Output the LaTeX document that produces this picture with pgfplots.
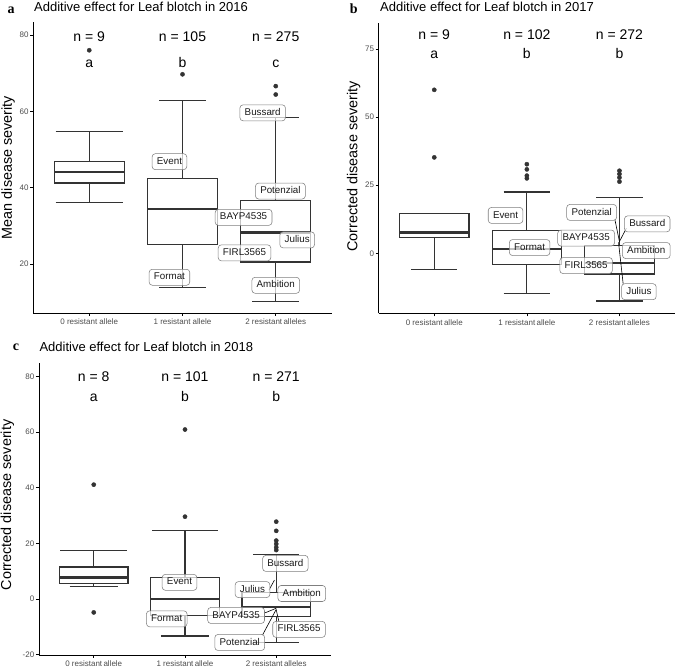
\documentclass[border=0pt]{standalone}
\usepackage{fontspec}
\setmainfont{Liberation Sans}
\newfontfamily\serifb{Liberation Serif}
\usepackage{pgfplots}
\pgfplotsset{compat=1.18}
\definecolor{tickgray}{HTML}{4D4D4D}
\definecolor{boxgray}{HTML}{333333}
\definecolor{lblgray}{HTML}{7F7F7F}
\definecolor{lbltext}{HTML}{1A1A1A}
\pgfplotsset{
  myax/.style={scale only axis, axis lines=left,
    axis line style={-, line width=0.8pt, black},
    xmin=-0.6, xmax=2.6, xtick={0,1,2},
    tick align=outside, major tick length=3pt,
    tick style={line width=0.7pt, black},
    xtick pos=left, ytick pos=left,
    ticklabel style={font=\fontsize{8}{9}\selectfont, text=tickgray},
    yticklabel style={inner sep=1.5pt},
    xticklabel style={inner sep=1pt, yshift=-2pt},
    clip=false, anchor=south west},
  bxl/.style={draw=boxgray, line width=1.15pt, mark=none, solid, line join=miter},
  bxf/.style={bxl, fill=white},
  med/.style={draw=boxgray, line width=2.4pt, mark=none},
  outl/.style={only marks, mark=*, mark size=2.1pt, draw=boxgray, fill=boxgray},
  seg/.style={black, line width=0.6pt, mark=none},
}
\tikzset{
  lbl/.style={draw=lblgray, line width=0.55pt, fill=white, fill opacity=0.7, text opacity=1,
    text=lbltext, rounded corners=3.2pt, font=\fontsize{9.8}{11}\selectfont,
    inner xsep=4.8pt, inner ysep=0pt, text height=7.2pt, text depth=2pt, minimum height=16pt},
  ntxt/.style={anchor=base, inner sep=0pt, font=\fontsize{14}{16}\selectfont},
  ttl/.style={anchor=base west, inner sep=0pt, font=\fontsize{13}{15}\selectfont},
  plet/.style={anchor=base west, inner sep=0pt, font=\serifb\bfseries\fontsize{14}{16}\selectfont},
  ylab/.style={rotate=90, anchor=base, inner sep=0pt, font=\fontsize{14.4}{16}\selectfont},
}
\begin{document}
\begin{tikzpicture}
\path[use as bounding box] (0pt,0pt) rectangle (677pt,668pt);

% ---------------- panel a ----------------
\node[plet] at (7.3pt,654.7pt) {a};
\node[ttl] at (34pt,656.5pt) {Additive effect for Leaf blotch in 2016};
\node[ylab] at (12pt,500.5pt) {Mean disease severity};
\begin{axis}[myax, at={(33.3pt,355pt)}, width=298.4pt, height=291.3pt,
  ymin=7.14, ymax=83.49, ytick={20,40,60,80}, yticklabels={20,40,60,80},
  xticklabels={0 resistant allele, 1 resistant allele, 2 resistant\,alleles}]
% group 0
\addplot[bxl] coordinates {(0,46.8) (0,54.8)};
\addplot[bxl] coordinates {(-0.36,54.8) (0.36,54.8)};
\addplot[bxl] coordinates {(0,41.2) (0,36.2)};
\addplot[bxl] coordinates {(-0.36,36.2) (0.36,36.2)};
\addplot[bxf] coordinates {(-0.375,41.2) (0.375,41.2) (0.375,46.8) (-0.375,46.8) (-0.375,41.2)} -- cycle;
\addplot[med] coordinates {(-0.375,44.1) (0.375,44.1)};
% group 1
\addplot[bxl] coordinates {(1,42.3) (1,62.9)};
\addplot[bxl] coordinates {(0.75,62.9) (1.25,62.9)};
\addplot[bxl] coordinates {(1,25.1) (1,13.9)};
\addplot[bxl] coordinates {(0.75,13.9) (1.25,13.9)};
\addplot[bxf] coordinates {(0.625,25.1) (1.375,25.1) (1.375,42.3) (0.625,42.3) (0.625,25.1)} -- cycle;
\addplot[med] coordinates {(0.625,34.4) (1.375,34.4)};
% group 2
\addplot[bxl] coordinates {(2,36.7) (2,58.3)};
\addplot[bxl] coordinates {(1.75,58.3) (2.25,58.3)};
\addplot[bxl] coordinates {(2,20.5) (2,10.2)};
\addplot[bxl] coordinates {(1.75,10.2) (2.25,10.2)};
\addplot[bxf] coordinates {(1.625,20.5) (2.375,20.5) (2.375,36.7) (1.625,36.7) (1.625,20.5)} -- cycle;
\addplot[med] coordinates {(1.625,28.2) (2.375,28.2)};
\addplot[outl] coordinates {(0,76.0) (1,69.7) (2,66.6) (2,64.4)};
\node[lbl] at (axis cs:0.86,46.8) {Event};
\node[lbl] at (axis cs:0.86,16.5) {Format};
\node[lbl] at (axis cs:1.655,32.2) {BAYP4535};
\node[lbl] at (axis cs:1.86,59.6) {Bussard};
\node[lbl] at (axis cs:2.05,39.1) {Potenzial};
\node[lbl] at (axis cs:2.23,26.3) {Julius};
\node[lbl] at (axis cs:1.665,22.9) {FIRL3565};
\node[lbl] at (axis cs:2.0,14.4) {Ambition};
\node[ntxt] at (axis cs:0,78.4) {n = 9};
\node[ntxt] at (axis cs:1,78.4) {n = 105};
\node[ntxt] at (axis cs:2,78.4) {n = 275};
\node[ntxt] at (axis cs:0,71.6) {a};
\node[ntxt] at (axis cs:1,71.6) {b};
\node[ntxt] at (axis cs:2,71.6) {c};
\end{axis}

% ---------------- panel b ----------------
\node[plet] at (349.7pt,654.7pt) {b};
\node[ttl] at (380pt,656.5pt) {Additive effect for Leaf blotch in 2017};
\node[ylab] at (357.3pt,501.5pt) {Corrected disease severity};
\begin{axis}[myax, at={(378.7pt,354.7pt)}, width=296.3pt, height=290.6pt,
  ymin=-22.03, ymax=84.65, ytick={0,25,50,75}, yticklabels={0,25,50,75},
  xticklabels={0 resistant\,allele, 1 resistant\,allele, 2 resistant\,alleles}]
% group 0
\addplot[bxl] coordinates {(0,5.9) (0,-6.1)};
\addplot[bxl] coordinates {(-0.25,-6.1) (0.25,-6.1)};
\addplot[bxf] coordinates {(-0.375,5.9) (0.375,5.9) (0.375,14.6) (-0.375,14.6) (-0.375,5.9)} -- cycle;
\addplot[med] coordinates {(-0.375,7.7) (0.375,7.7)};
% group 1
\addplot[bxl] coordinates {(1,8.3) (1,22.5)};
\addplot[bxl] coordinates {(0.75,22.5) (1.25,22.5)};
\addplot[bxl] coordinates {(1,-4.0) (1,-14.7)};
\addplot[bxl] coordinates {(0.75,-14.7) (1.25,-14.7)};
\addplot[bxf] coordinates {(0.625,-4.0) (1.375,-4.0) (1.375,8.3) (0.625,8.3) (0.625,-4.0)} -- cycle;
\addplot[med] coordinates {(0.625,1.5) (1.375,1.5)};
% group 2
\addplot[bxl] coordinates {(2,3.0) (2,20.6)};
\addplot[bxl] coordinates {(1.75,20.6) (2.25,20.6)};
\addplot[bxl] coordinates {(2,-7.6) (2,-17.5)};
\addplot[bxl] coordinates {(1.75,-17.5) (2.25,-17.5)};
\addplot[bxf] coordinates {(1.625,-7.6) (2.375,-7.6) (2.375,3.0) (1.625,3.0) (1.625,-7.6)} -- cycle;
\addplot[med] coordinates {(1.625,-3.5) (2.375,-3.5)};
\addplot[outl] coordinates {(0,60.0) (0,35.2) (1,32.7) (1,30.8) (1,28.5) (1,27.5) (2,30.3) (2,29.1) (2,27.8) (2,26.3)};
\addplot[seg] coordinates {(1.95,12.5) (2.0,4.3)};
\addplot[seg] coordinates {(2.075,9.2) (2.0,4.3)};
\addplot[seg] coordinates {(2.04,-11.2) (1.99,4.0)};
\node[lbl] at (axis cs:0.77,13.9) {Event};
\node[lbl] at (axis cs:1.03,2.1) {Format};
\node[lbl] at (axis cs:1.70,15.0) {Potenzial};
\node[lbl] at (axis cs:2.30,10.8) {Bussard};
\node[lbl] at (axis cs:1.64,5.6) {BAYP4535};
\node[lbl] at (axis cs:2.29,1.0) {Ambition};
\node[lbl] at (axis cs:1.64,-4.5) {FIRL3565};
\node[lbl] at (axis cs:2.21,-14.1) {Julius};
\node[ntxt] at (axis cs:0,78.6) {n = 9};
\node[ntxt] at (axis cs:1,78.6) {n = 102};
\node[ntxt] at (axis cs:2,78.6) {n = 272};
\node[ntxt] at (axis cs:0,71.6) {a};
\node[ntxt] at (axis cs:1,71.6) {b};
\node[ntxt] at (axis cs:2,71.6) {b};
\end{axis}

% ---------------- panel c ----------------
\node[plet] at (12.7pt,317.3pt) {c};
\node[ttl] at (39.3pt,316.3pt) {Additive effect for Leaf blotch in 2018};
\node[ylab] at (11pt,163pt) {Corrected disease severity};
\begin{axis}[myax, at={(39pt,13pt)}, width=292pt, height=291.7pt,
  ymin=-20.1, ymax=84.7, ytick={-20,0,20,40,60,80}, yticklabels={-20,0,20,40,60,80},
  xticklabels={0 resistant\,allele, 1 resistant\,allele, 2 resistant\,alleles}]
% group 0
\addplot[bxl] coordinates {(0,11.5) (0,17.3)};
\addplot[bxl] coordinates {(-0.365,17.3) (0.365,17.3)};
\addplot[bxl] coordinates {(0,5.6) (0,4.4)};
\addplot[bxl] coordinates {(-0.265,4.4) (0.265,4.4)};
\addplot[bxf] coordinates {(-0.375,5.6) (0.375,5.6) (0.375,11.5) (-0.375,11.5) (-0.375,5.6)} -- cycle;
\addplot[med] coordinates {(-0.375,7.8) (0.375,7.8)};
% group 1
\addplot[bxl] coordinates {(1,7.7) (1,24.5)};
\addplot[bxl] coordinates {(0.64,24.5) (1.36,24.5)};
\addplot[bxl] coordinates {(1,-5.8) (1,-13.3)};
\addplot[bxl] coordinates {(0.735,-13.3) (1.265,-13.3)};
\addplot[bxf] coordinates {(0.625,-5.8) (1.375,-5.8) (1.375,7.7) (0.625,7.7) (0.625,-5.8)} -- cycle;
\addplot[med] coordinates {(0.625,0.1) (1.375,0.1)};
% group 2
\addplot[bxl] coordinates {(2,2.5) (2,16.1)};
\addplot[bxl] coordinates {(1.75,16.1) (2.25,16.1)};
\addplot[bxl] coordinates {(2,-6.4) (2,-15.6)};
\addplot[bxl] coordinates {(1.75,-15.6) (2.25,-15.6)};
\addplot[bxf] coordinates {(1.625,-6.4) (2.375,-6.4) (2.375,2.5) (1.625,2.5) (1.625,-6.4)} -- cycle;
\addplot[med] coordinates {(1.625,-2.8) (2.375,-2.8)};
\addplot[outl] coordinates {(0,41.1) (0,-4.8) (1,60.9) (1,29.6) (2,27.8) (2,24.5) (2,21.0) (2,19.8) (2,18.6) (2,17.6)};
\addplot[seg] coordinates {(1.867,-5.1) (2.0,-3.3)};
\addplot[seg] coordinates {(2.03,-8.2) (2.0,-3.9)};
\addplot[seg] coordinates {(1.85,-12.9) (2.0,-3.7)};
\addplot[seg] coordinates {(1.92,3.2) (1.98,6.8)};
\node[lbl] at (axis cs:0.94,6.0) {Event};
\node[lbl] at (axis cs:0.80,-7.1) {Format};
\node[lbl] at (axis cs:2.10,12.8) {Bussard};
\node[lbl] at (axis cs:1.74,3.4) {Julius};
\node[lbl] at (axis cs:2.28,2.0) {Ambition};
\node[lbl] at (axis cs:1.56,-5.9) {BAYP4535};
\node[lbl] at (axis cs:2.25,-10.9) {FIRL3565};
\node[lbl] at (axis cs:1.60,-15.6) {Potenzial};
\node[ntxt] at (axis cs:0,78.1) {n = 8};
\node[ntxt] at (axis cs:1,78.1) {n = 101};
\node[ntxt] at (axis cs:2,78.1) {n = 271};
\node[ntxt] at (axis cs:0,71.1) {a};
\node[ntxt] at (axis cs:1,71.1) {b};
\node[ntxt] at (axis cs:2,71.1) {b};
\end{axis}
\end{tikzpicture}
\end{document}
